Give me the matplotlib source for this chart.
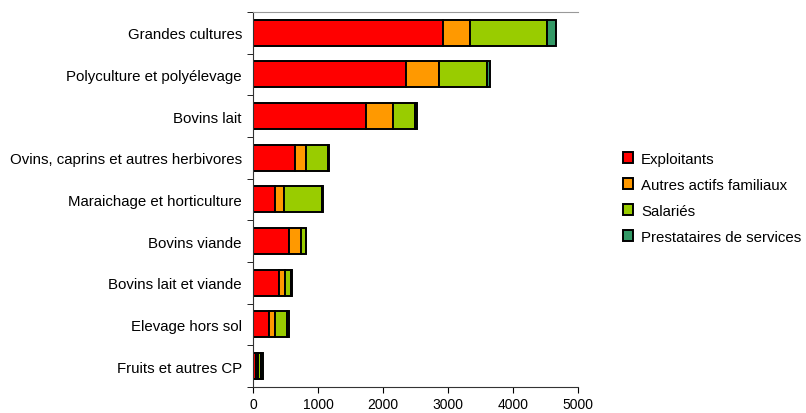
import matplotlib.pyplot as plt
import numpy as np

# categories, top to bottom
categories = ['Grandes cultures', 'Polyculture et polyélevage', 'Bovins lait',
              'Ovins, caprins et autres herbivores', 'Maraichage et horticulture',
              'Bovins viande', 'Bovins lait et viande', 'Elevage hors sol',
              'Fruits et autres CP']

# values
exploitants = [2930, 2360, 1740, 650, 340, 550, 400, 240, 45]
autres_actifs = [410, 500, 410, 160, 130, 190, 90, 100, 30]
salaries = [1180, 740, 340, 350, 590, 70, 100, 180, 40]
prestataires = [150, 40, 35, 10, 10, 10, 10, 40, 45]

series = [
    ('Exploitants', exploitants, '#FF0000'),
    ('Autres actifs familiaux', autres_actifs, '#FF9900'),
    ('Salariés', salaries, '#99CC00'),
    ('Prestataires de services', prestataires, '#339966'),
]

plt.rcParams['font.family'] = ['Liberation Sans', 'DejaVu Sans']

fig = plt.figure(figsize=(8.06, 4.14), dpi=100)
ax = fig.add_axes([0.314, 0.063, 0.403, 0.906])

y = np.arange(len(categories))
left = np.zeros(len(categories))
for name, vals, col in series:
    vals = np.array(vals, dtype=float)
    ax.barh(y, vals, left=left, height=0.62, color=col, edgecolor='black',
            linewidth=1.4, label=name)
    left += vals

ax.set_xlim(0, 5000)
ax.set_ylim(len(categories) - 0.5, -0.5)
ax.set_xticks([0, 1000, 2000, 3000, 4000, 5000])
ax.set_yticks(y)
ax.set_yticklabels(categories)
ax.set_yticks(np.arange(-0.5, len(categories), 1), minor=True)
ax.tick_params(axis='y', which='major', length=0, pad=8, labelsize=10.8)
ax.tick_params(axis='y', which='minor', length=4, direction='out')
ax.tick_params(axis='x', length=4, direction='out', labelsize=10)

ax.spines['right'].set_visible(False)
ax.spines['top'].set_color('#999999')
ax.spines['left'].set_color('#333333')
ax.spines['bottom'].set_color('#333333')

ax.legend(loc='center left', bbox_to_anchor=(1.12, 0.505), frameon=False,
          fontsize=10.8, handlelength=0.7, handleheight=0.7, handletextpad=0.5,
          labelspacing=0.8, borderaxespad=0)

plt.savefig('out.png', dpi=100)
